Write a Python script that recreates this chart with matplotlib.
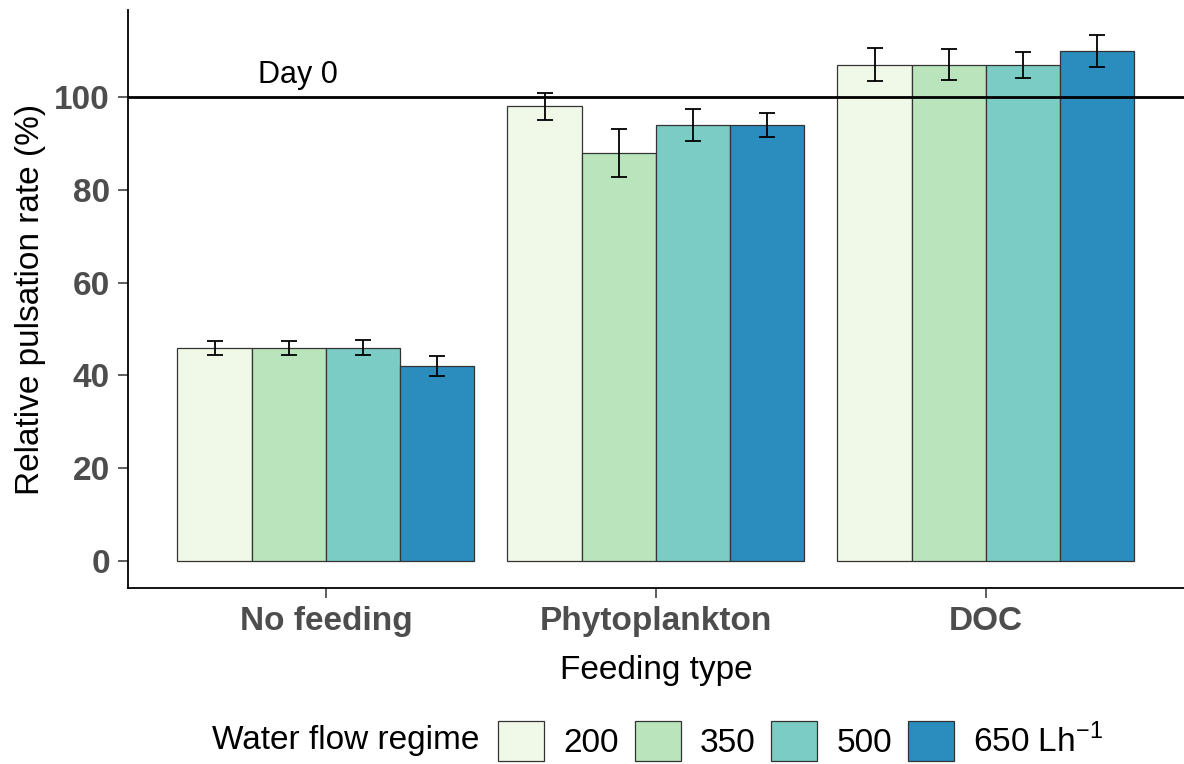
import matplotlib as mpl
mpl.use('Agg')
import matplotlib.pyplot as plt
from matplotlib.patches import Patch
import numpy as np

plt.rcParams['font.family'] = ['Liberation Sans', 'DejaVu Sans']
plt.rcParams['mathtext.fontset'] = 'custom'
plt.rcParams['mathtext.rm'] = 'Liberation Sans'

feeding = ['No feeding', 'Phytoplankton', 'DOC']
flows = ['200', '350', '500', '650 Lh$^{-1}$']
colors = ['#f0f9e8', '#bae4bc', '#7bccc4', '#2b8cbe']

# mean relative pulsation rate (%) per feeding type, one list per flow regime
rate_200 = [46, 98, 107]
rate_350 = [46, 88, 107]
rate_500 = [46, 94, 107]
rate_650 = [42, 94, 110]
se_200 = [1.5, 3.0, 3.5]
se_350 = [1.5, 5.2, 3.3]
se_500 = [1.6, 3.5, 2.8]
se_650 = [2.1, 2.6, 3.4]

rates = [rate_200, rate_350, rate_500, rate_650]
errs = [se_200, se_350, se_500, se_650]

fs = 24

fig = plt.figure(figsize=(11.84, 7.64), dpi=100)
ax = fig.add_axes([0.108, 0.2304, 0.892, 0.7566])

x = np.arange(1, len(feeding) + 1)
w = 0.9 / len(flows)
for i in range(len(flows)):
    pos = x - 0.45 + w * (i + 0.5)
    ax.bar(pos, rates[i], width=w, color=colors[i], edgecolor='#333333',
           linewidth=0.9, zorder=2)
    ax.errorbar(pos, rates[i], yerr=errs[i], fmt='none', ecolor='black',
                elinewidth=1.3, capsize=6, capthick=1.3, zorder=3)

ax.axhline(100, color='black', linewidth=2, zorder=4)
ax.text(0.915, 101.5, 'Day 0', fontsize=22, ha='center', va='bottom')

ax.set_xlim(0.4, 3.6)
ax.set_ylim(-5.8, 118.8)
ax.set_xticks(x)
ax.set_xticklabels(feeding)
ax.set_yticks([0, 20, 40, 60, 80, 100])
for lab in ax.get_xticklabels() + ax.get_yticklabels():
    lab.set_fontweight('bold')
    lab.set_fontsize(fs)
    lab.set_color('#4d4d4d')
ax.tick_params(length=7, width=1.1, color='#333333', pad=6)

ax.spines['top'].set_visible(False)
ax.spines['right'].set_visible(False)
ax.spines['left'].set_linewidth(1.3)
ax.spines['bottom'].set_linewidth(1.3)

ax.set_xlabel('Feeding type', fontsize=fs, labelpad=13)
ax.set_ylabel('Relative pulsation rate (%)', fontsize=fs, labelpad=6)

handles = [Patch(facecolor=c, edgecolor='#333333', linewidth=0.9) for c in colors]
fig.legend(handles, flows, ncol=4, loc='center left',
           bbox_to_anchor=(498 / 1184, 1 - 741 / 764),
           frameon=False, fontsize=fs, handlelength=1.38, handleheight=1.45,
           handletextpad=0.57, columnspacing=0.48, borderpad=0, borderaxespad=0)
fig.text(0.179, 0.031, 'Water flow regime', fontsize=fs, va='center')

fig.savefig('out.png', dpi=100)
